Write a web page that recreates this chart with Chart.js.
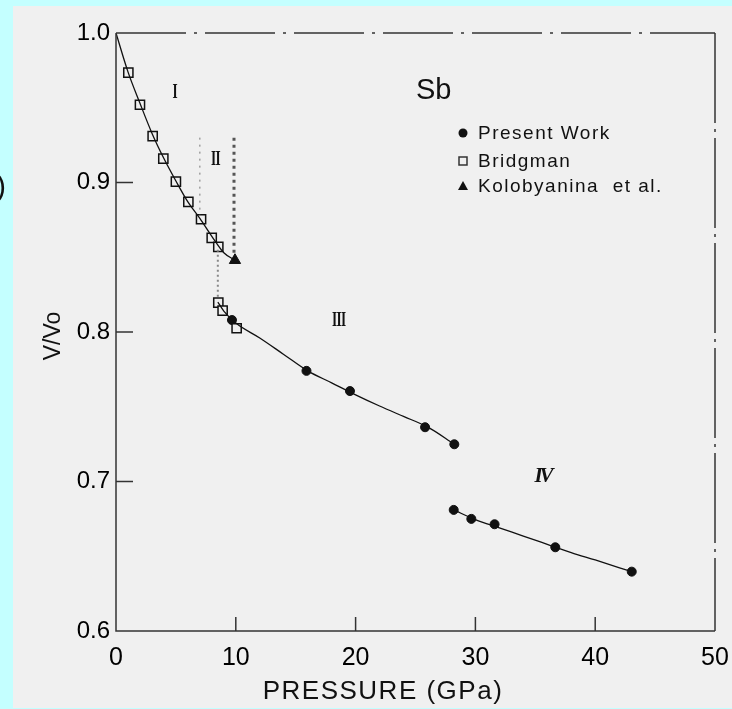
<!DOCTYPE html>
<html>
<head>
<meta charset="utf-8">
<script src="https://cdn.jsdelivr.net/npm/chart.js@4.4.1/dist/chart.umd.min.js"></script>
<style>
html,body{margin:0;padding:0;background:#c4ffff;}
canvas{display:block;}
</style>
</head>
<body>
<canvas id="c" width="732" height="709"></canvas>
<script>
// ---- data ----
const xTickLabels = ['0','10','20','30','40','50'];
const yTickLabels = ['0.6','0.7','0.8','0.9','1.0'];

const bridgmanP = [1.03, 2.0, 3.06, 3.95, 5.0, 6.04, 7.1, 7.99, 8.54, 8.54, 8.9, 10.07];
const bridgmanV = [0.9735, 0.952, 0.931, 0.916, 0.9006, 0.887, 0.8754, 0.863, 0.857, 0.8196, 0.8143, 0.8025];

const presentP = [9.68, 15.9, 19.53, 25.8, 28.24, 28.19, 29.66, 31.6, 36.67, 43.05];
const presentV = [0.808, 0.774, 0.7605, 0.7363, 0.7249, 0.681, 0.675, 0.6714, 0.656, 0.6397];

const kolP = [9.93];
const kolV = [0.848];

const curveIP = [0, 1, 2, 3, 4, 5, 6, 7, 8, 9, 9.93];
const curveIV = [1.000, 0.974, 0.953, 0.933, 0.916, 0.901, 0.887, 0.876, 0.864, 0.853, 0.848];

const curveIIIP = [8.5, 9, 10, 12, 14, 16, 18, 20, 22, 24, 26, 28.24];
const curveIIIV = [0.820, 0.814, 0.806, 0.796, 0.785, 0.774, 0.766, 0.758, 0.7505, 0.7435, 0.7365, 0.7249];

const curveIVP = [28.19, 30, 32, 34, 36, 38, 40, 43.05];
const curveIVV = [0.681, 0.6745, 0.669, 0.6635, 0.658, 0.6525, 0.6475, 0.6397];

const bound1P = [7.0, 7.0];   const bound1V = [0.930, 0.878];
const bound2P = [9.85, 9.85]; const bound2V = [0.930, 0.851];
const bound3P = [8.5, 8.5];   const bound3V = [0.855, 0.822];

const phaseLabels = ['I', 'II', 'III', 'IV'];
const phaseP = [4.9, 8.3, 18.6, 35.6];
const phaseV = [0.960, 0.9155, 0.808, 0.7035];

const legendNames = ['Present Work', 'Bridgman', 'Kolobyanina  et al.'];

function pts(xs, ys){ return xs.map((x,i)=>({x:x, y:ys[i]})); }

const INK = '#111';

const bgPlugin = {
  id: 'bg',
  beforeDraw(chart){
    const ctx = chart.ctx;
    ctx.save();
    ctx.fillStyle = '#c4ffff';
    ctx.fillRect(0,0,chart.width,chart.height);
    ctx.fillStyle = '#f0f0f0';
    ctx.fillRect(13,6,chart.width-13,702);
    ctx.fillStyle = INK;
    ctx.font = '30px "Liberation Sans"';
    ctx.textBaseline = 'middle';
    ctx.textAlign = 'left';
    ctx.fillText(')', -4, 188);
    ctx.restore();
  }
};

const framePlugin = {
  id: 'frame',
  afterDraw(chart){
    const ctx = chart.ctx;
    const a = chart.chartArea;
    const xs = chart.scales.x, ys = chart.scales.y;
    ctx.save();
    ctx.strokeStyle = '#333';
    ctx.lineWidth = 1.5;
    // left & bottom
    ctx.beginPath();
    ctx.moveTo(a.left, a.top); ctx.lineTo(a.left, a.bottom); ctx.lineTo(a.right, a.bottom);
    ctx.stroke();
    // top & right (broken)
    ctx.setLineDash([70,8,3,8]);
    ctx.beginPath(); ctx.moveTo(a.left, a.top); ctx.lineTo(a.right, a.top); ctx.stroke();
    ctx.setLineDash([90,6,3,6]);
    ctx.beginPath(); ctx.moveTo(a.right, a.top); ctx.lineTo(a.right, a.bottom); ctx.stroke();
    ctx.setLineDash([]);
    // inward ticks
    ctx.lineWidth = 1.5;
    [10,20,30,40].forEach(v=>{
      const px = xs.getPixelForValue(v);
      ctx.beginPath(); ctx.moveTo(px, a.bottom); ctx.lineTo(px, a.bottom-14); ctx.stroke();
    });
    [0.7,0.8,0.9].forEach(v=>{
      const py = ys.getPixelForValue(v);
      ctx.beginPath(); ctx.moveTo(a.left, py); ctx.lineTo(a.left+17, py); ctx.stroke();
    });
    // axis titles
    ctx.fillStyle = INK;
    ctx.textAlign = 'center';
    ctx.textBaseline = 'middle';
    ctx.font = '26px "Liberation Sans"';
    if ('letterSpacing' in ctx) ctx.letterSpacing = '1.5px';
    ctx.fillText('PRESSURE (GPa)', 383, 692);
    ctx.save();
    ctx.translate(54, 336);
    ctx.rotate(-Math.PI/2);
    if ('letterSpacing' in ctx) ctx.letterSpacing = '0px';
    ctx.font = '23px "Liberation Sans"';
    ctx.fillText('V/Vo', 0, 0);
    ctx.restore();
    // Sb label
    if ('letterSpacing' in ctx) ctx.letterSpacing = '0px';
    ctx.textAlign = 'left';
    ctx.font = '29px "Liberation Sans"';
    ctx.fillText('Sb', 416, 91);
    // legend
    ctx.font = '19px "Liberation Sans"';
    if ('letterSpacing' in ctx) ctx.letterSpacing = '1.5px';
    const ly = [133, 161, 186];
    legendNames.forEach((n,i)=>{ ctx.fillText(n, 478, ly[i]+1); });
    ctx.fillStyle = INK;
    ctx.beginPath(); ctx.arc(463, ly[0], 4.5, 0, Math.PI*2); ctx.fill();
    ctx.lineWidth = 1.5;
    ctx.strokeRect(459, ly[1]-4, 8, 8);
    ctx.beginPath(); ctx.moveTo(463, ly[2]-5); ctx.lineTo(468, ly[2]+4); ctx.lineTo(458, ly[2]+4); ctx.closePath(); ctx.fill();
    // phase numerals
    ctx.textAlign = 'center';
    phaseLabels.forEach((t,i)=>{
      const px = xs.getPixelForValue(phaseP[i]);
      const py = ys.getPixelForValue(phaseV[i]);
      ctx.save();
      ctx.translate(px, py);
      if (t === 'IV') { ctx.font = 'italic bold 21px "Liberation Serif"'; if ('letterSpacing' in ctx) ctx.letterSpacing = '-3px'; }
      else { ctx.font = 'bold 22px "Liberation Serif"'; ctx.scale(0.6, 1); if ('letterSpacing' in ctx) ctx.letterSpacing = '-1px'; }
      ctx.fillText(t, 0, 0);
      ctx.restore();
    });
    ctx.restore();
  }
};

const lineDs = (xs, ys) => ({
  data: pts(xs, ys), showLine: true, pointRadius: 0, borderColor: INK, borderWidth: 1.3,
  cubicInterpolationMode: 'monotone', fill: false
});
const boundDs = (xs, ys, w, dash, col) => ({
  data: pts(xs, ys), showLine: true, pointRadius: 0, borderColor: col, borderWidth: w,
  borderDash: dash, fill: false
});

new Chart(document.getElementById('c'), {
  type: 'scatter',
  data: {
    datasets: [
      lineDs(curveIP, curveIV),
      lineDs(curveIIIP, curveIIIV),
      lineDs(curveIVP, curveIVV),
      boundDs(bound1P, bound1V, 1, [2,5], '#777'),
      boundDs(bound2P, bound2V, 3, [3,4], '#555'),
      boundDs(bound3P, bound3V, 2, [2,3], '#888'),
      { label: 'Bridgman', data: pts(bridgmanP, bridgmanV), pointStyle: 'rect', pointRadius: 6.5,
        backgroundColor: '#f0f0f0', borderColor: INK, borderWidth: 1.5 },
      { label: 'Present Work', data: pts(presentP, presentV), pointStyle: 'circle', pointRadius: 4.5,
        backgroundColor: INK, borderColor: INK, borderWidth: 1 },
      { label: 'Kolobyanina et al.', data: pts(kolP, kolV), pointStyle: 'triangle', pointRadius: 6.5,
        backgroundColor: INK, borderColor: INK, borderWidth: 1 }
    ]
  },
  options: {
    responsive: false,
    animation: false,
    events: [],
    layout: { padding: { top: 33, right: 17, left: 0, bottom: 0 } },
    plugins: { legend: { display: false }, tooltip: { enabled: false } },
    scales: {
      x: {
        type: 'linear', min: 0, max: 50,
        grid: { display: false, drawTicks: false },
        border: { display: false },
        ticks: { stepSize: 10, padding: 12, color: '#000', maxRotation: 0,
          font: { family: 'Liberation Sans', size: 25 },
          callback: (v) => xTickLabels[Math.round(v/10)] },
        afterFit: (s) => { s.height = 78; s.paddingLeft = 0; s.paddingRight = 0; }
      },
      y: {
        type: 'linear', min: 0.6, max: 1.0,
        grid: { display: false, drawTicks: false },
        border: { display: false },
        ticks: { stepSize: 0.1, padding: 6, color: '#000',
          font: { family: 'Liberation Sans', size: 24 },
          callback: (v) => yTickLabels[Math.round((v-0.6)*10)] },
        afterFit: (s) => { s.width = 116; s.paddingTop = 0; s.paddingBottom = 0; }
      }
    }
  },
  plugins: [bgPlugin, framePlugin]
});
</script>
</body>
</html>
